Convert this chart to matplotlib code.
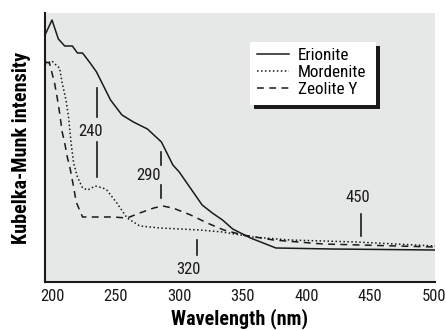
import matplotlib
matplotlib.use("Agg")
import matplotlib.pyplot as plt
from matplotlib.patches import Rectangle

plt.rcParams['font.family'] = ['Roboto Condensed', 'Liberation Sans Narrow', 'Liberation Sans']

# Données (intensité en unités arbitraires)
wl_erionite = [194.5, 200, 205, 210, 216, 220, 224, 230, 235, 246, 255, 264, 275,
               286, 295, 300, 306, 318, 326, 334, 342, 356, 376, 420, 501]
erionite = [247, 262, 243, 236, 236, 229, 229, 219, 210, 182, 167, 160, 153,
            140, 117, 110, 99, 77, 69, 62, 53, 44, 34, 33, 32]

wl_mordenite = [194.5, 200, 204, 206, 208, 211, 213, 215, 217, 220, 224, 228, 234,
                240, 243, 251, 259, 269, 285, 301, 316, 334, 358, 387, 439, 501]
mordenite = [218, 221, 216, 214, 199, 182, 165, 139, 119, 105, 94, 92, 96,
             94, 92, 79, 64, 56, 54, 53, 52, 50, 45, 42, 40, 36]

wl_zeolite = [195, 198, 202, 204, 206, 208, 210, 212, 214, 217, 219, 224, 235,
              248, 259, 269, 280, 287, 295, 309, 322, 335, 350, 374, 413, 501]
zeolite = [220, 219, 199, 185, 169, 150, 139, 125, 115, 95, 80, 65, 65,
           65, 64, 69, 74, 76, 74, 67, 59, 52, 47, 42, 38, 35]

# Repères : (position de la ligne, segments, position du texte, texte)
reperes_x = [235.3, 285.6, 313.9, 442.7]
reperes_segments = [[(194, 165), (140, 105)], [(130, 117), (97, 84)], [(42, 27)], [(68, 46)]]
reperes_texte = [(230.6, 151), (276, 106), (307, 13), (440.4, 85)]
reperes_label = ['240', '290', '320', '450']

fig = plt.figure(figsize=(4.46, 3.30), dpi=100)
ax = fig.add_axes([45 / 446, 48 / 330, 390 / 446, 269 / 330])
ax.set_facecolor('#e6e7e7')

couleur = '#1a1a1a'
ax.plot(wl_erionite, erionite, color=couleur, lw=1.1, label='Erionite')
ax.plot(wl_mordenite, mordenite, color=couleur, lw=1.1, linestyle=(0, (1, 1.6)), label='Mordenite')
ax.plot(wl_zeolite, zeolite, color=couleur, lw=1.1, linestyle=(0, (4.5, 3.5)), label='Zeolite Y')

for x, segs, (tx, ty), lab in zip(reperes_x, reperes_segments, reperes_texte, reperes_label):
    for y0, y1 in segs:
        ax.plot([x, x], [y0, y1], color=couleur, lw=1.2)
    ax.text(tx, ty, lab, ha='center', va='center', fontsize=12, color=couleur)

ax.set_xlim(194.5, 501)
ax.set_ylim(0, 269)
ax.set_xticks([200, 250, 300, 350, 400, 450, 500])
ax.set_yticks([])
ax.tick_params(axis='x', length=0, labelsize=12, pad=5, colors=couleur)

for cote in ['top', 'right']:
    ax.spines[cote].set_visible(False)
for cote in ['left', 'bottom']:
    ax.spines[cote].set_linewidth(1.5)
    ax.spines[cote].set_color(couleur)

ax.set_xlabel('Wavelength (nm)', fontsize=14.5, fontweight='bold', labelpad=3)
ax.set_ylabel('Kubelka-Munk intensity', fontsize=14.5, fontweight='bold', labelpad=10)

# Légende avec ombre portée
ombre = Rectangle((254 / 446, (330 - 109) / 330), 126 / 446, 63 / 330,
                  transform=fig.transFigure, facecolor='#1a1a1a', edgecolor='none',
                  zorder=5, clip_on=False)
boite = Rectangle((250 / 446, (330 - 105) / 330), 126 / 446, 63 / 330,
                  transform=fig.transFigure, facecolor='white', edgecolor='none',
                  zorder=6, clip_on=False)
ax.add_patch(ombre)
ax.add_patch(boite)
leg = ax.legend(loc='upper left', bbox_to_anchor=(257 / 446, (330 - 48) / 330),
                bbox_transform=fig.transFigure, frameon=False, fontsize=12.3,
                handlelength=1.9, handletextpad=0.5, labelspacing=0.12, borderaxespad=0,
                borderpad=0)
leg.set_zorder(7)

plt.savefig('out.png', dpi=100)
